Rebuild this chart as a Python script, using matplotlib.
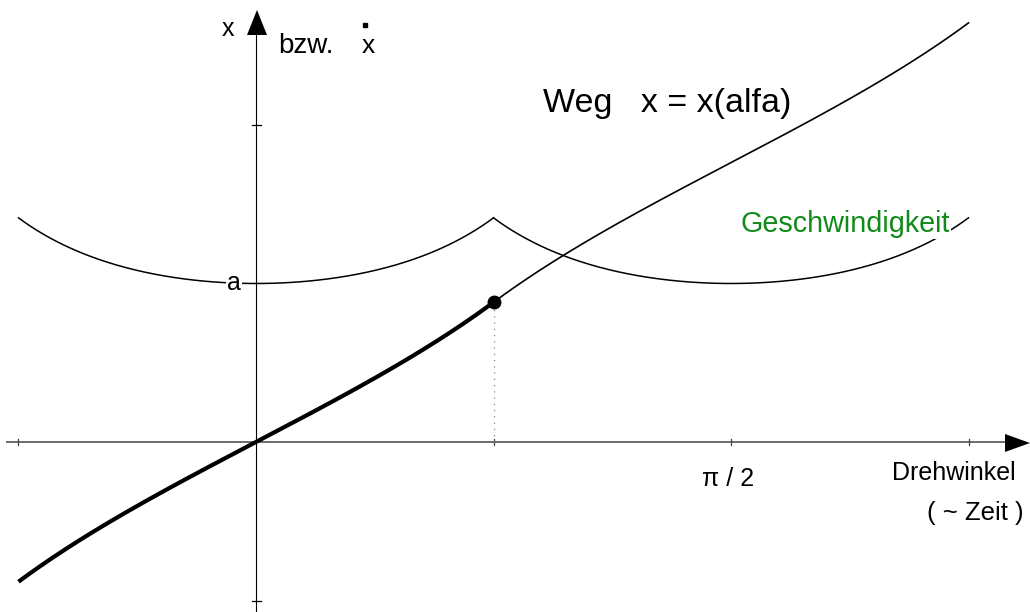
import numpy as np
import matplotlib
matplotlib.use("Agg")
import matplotlib.pyplot as plt
from matplotlib.patches import Polygon

plt.rcParams['font.family'] = ['Liberation Sans', 'DejaVu Sans']

# Crank-driven slider: speed v = a / cos(alpha) on the first quarter turn,
# then a / sin(alpha); the path x(alpha) is the integral of the speed.
a = 1.0
alpha_start = -np.pi / 4
alpha_switch = np.pi / 4
alpha_end = 3 * np.pi / 4
x_ticks = [-np.pi / 4, np.pi / 4, np.pi / 2, 3 * np.pi / 4]
y_ticks = [-1.0, 2.0]
x_tick_label = "\u03c0 / 2"

alpha1 = np.linspace(alpha_start, alpha_switch, 300)
speed1 = a / np.cos(alpha1)
path1 = a * np.log(1 / np.cos(alpha1) + np.tan(alpha1))

alpha2 = np.linspace(alpha_switch, alpha_end, 300)
speed2 = a / np.sin(alpha2)
path_switch = a * np.log(1 / np.cos(alpha_switch) + np.tan(alpha_switch))
path2 = path_switch + a * (np.log(np.tan(alpha2 / 2)) - np.log(np.tan(alpha_switch / 2)))

# --- canvas: one axes filling the figure, origin of the diagram at pixel (256, 442)
W, H = 1030, 612
ox, oy = 256.0, 442.0
px_per_rad = 237.5 / (np.pi / 4)
px_per_unit = 158.5

fig = plt.figure(figsize=(W / 100, H / 100), dpi=100)
ax = fig.add_axes([0, 0, 1, 1])
ax.set_xlim((0 - ox) / px_per_rad, (W - ox) / px_per_rad)
ax.set_ylim((oy - H) / px_per_unit, oy / px_per_unit)
ax.axis('off')


def P(px, py):
    """pixel position -> data coordinates"""
    return (px - ox) / px_per_rad, (oy - py) / px_per_unit


def dx(n):
    return n / px_per_rad


def dy(n):
    return n / px_per_unit


# axes
x0, _ = P(6, 0)
xa, _ = P(1005, 0)
ax.plot([x0, xa], [0, 0], color='#444444', lw=1.1, zorder=1, solid_capstyle='butt')
_, yb = P(0, 612)
_, ya = P(0, 34)
ax.plot([0, 0], [yb, ya], color='black', lw=0.8, zorder=1, solid_capstyle='butt')

# arrow heads
ax.add_patch(Polygon([P(1005, 434), P(1030, 443), P(1005, 452)], closed=True,
                     color='black', lw=0, zorder=3))
ax.add_patch(Polygon([P(247, 35), P(257, 10), P(267, 35)], closed=True,
                     color='black', lw=0, zorder=3))

# ticks
for t in x_ticks:
    ax.plot([t, t], [dy(-3), dy(3)], color='#444444', lw=0.9, zorder=1)
for t in y_ticks:
    ax.plot([dx(-4), dx(5)], [t, t], color='black', lw=0.9, zorder=1)

# speed curve
ax.plot(alpha1, speed1, color='black', lw=1.1, zorder=2)
ax.plot(alpha2, speed2, color='black', lw=1.1, zorder=2)

# path curve: thick on the first section, thin afterwards
ax.plot(alpha1, path1, color='black', lw=3.0, zorder=2, solid_capstyle='butt')
ax.plot(alpha2, path2, color='black', lw=1.2, zorder=2)
ax.plot([alpha_switch], [path_switch], 'o', color='black', ms=9, zorder=4)
ax.plot([alpha_switch, alpha_switch], [0, path_switch], color='#888888', lw=0.9,
        dashes=(1, 4), zorder=1)

# labels
ax.text(*P(228, 36), "x", fontsize=18, ha='center', va='baseline')
ax.text(*P(278, 53), "bzw.", fontsize=20, ha='left', va='baseline')
ax.text(*P(368.5, 53), "x", fontsize=19, ha='center', va='baseline')
ax.plot(*P(364.5, 25.5), marker='s', color='black', ms=3, zorder=3)

ax.text(*P(543, 112), "Weg   x = x(alfa)", fontsize=24.5, ha='left', va='baseline')
ax.text(*P(740, 232), "Geschwindigkeit", fontsize=20.7, color='#118a1a', ha='left',
        va='baseline', zorder=5,
        bbox=dict(boxstyle='square,pad=0.05', fc='white', ec='none'))
ax.text(dx(-22), a, "a", fontsize=18, ha='center', va='center', zorder=5,
        bbox=dict(boxstyle='square,pad=0.05', fc='white', ec='none'))
ax.text(np.pi / 2 - dx(3), dy(-44), x_tick_label, fontsize=18, ha='center', va='baseline')
ax.text(*P(892, 480), "Drehwinkel", fontsize=18, ha='left', va='baseline')
ax.text(*P(927, 520), "( ~ Zeit )", fontsize=18.5, ha='left', va='baseline')

fig.savefig("out.png", dpi=100)
